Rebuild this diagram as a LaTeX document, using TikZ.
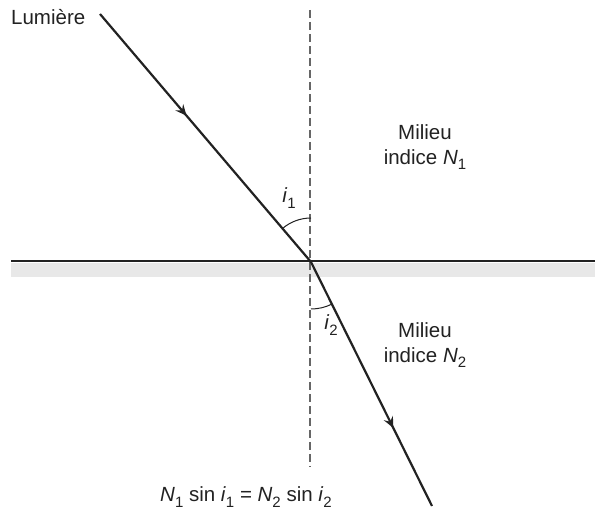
\documentclass[tikz,border=0pt]{standalone}
\usepackage{fontspec}
\setmainfont{Liberation Sans}
\usetikzlibrary{decorations.markings,arrows.meta,calc}
\definecolor{ray}{HTML}{222222}
\definecolor{band}{HTML}{E8E8E8}
\definecolor{normalc}{HTML}{666666}
\newcommand{\sbs}[1]{\raisebox{-0.28em}{\fontsize{15}{15}\selectfont #1}}
\begin{document}
\begin{tikzpicture}[x=1pt,y=1pt,
  raystyle/.style={draw=ray,line width=2.2pt},
  midarrow/.style={postaction={decorate},decoration={markings,
     mark=at position #1 with {\arrow{Stealth[length=11pt,width=10pt,inset=4pt]}}}},
  lbl/.style={font=\fontsize{20.5}{25}\selectfont,text=ray,inner sep=0pt},
  anglearc/.style={draw=ray,line width=1pt}]
\useasboundingbox (0,0) rectangle (595,509);
% medium band and interface
\fill[band] (11,232) rectangle (595,246);
\coordinate (L) at (11,248);
\coordinate (R) at (595,248);
\draw[ray,line width=2pt] (L) -- (R);
% normal
\coordinate (Ntop) at (310,499);
\coordinate (Nbot) at (310,42);
\draw[normalc,line width=1.3pt,dash pattern=on 8pt off 4pt] (Ntop) -- (Nbot);
% rays
\coordinate (A) at (100,495);
\coordinate (O) at (311,247);
\coordinate (B) at (432,3);
\draw[raystyle,midarrow=0.41] (A) -- (O);
\draw[raystyle,midarrow=0.68] (O) -- (B);
% angle arcs
\draw[anglearc] ($(O)+(90:44)$) arc[start angle=90,end angle=130.4,radius=44];
\draw[anglearc] ($(O)+(270:47)$) arc[start angle=270,end angle=296.4,radius=47];
% labels
\node[lbl,anchor=west] (lum) at (11,492) {Lumière};
\node[lbl] (i1) at (289,311) {\textit{i}\sbs{1}};
\node[lbl] (i2) at (331,184) {\textit{i}\sbs{2}};
\node[lbl,align=center] (m1) at (425,362) {Milieu\\indice \textit{N}\sbs{1}};
\node[lbl,align=center] (m2) at (425,164) {Milieu\\indice \textit{N}\sbs{2}};
\node[lbl] (eq) at (246,12) {\textit{N}\sbs{1} sin \textit{i}\sbs{1} = \textit{N}\sbs{2} sin \textit{i}\sbs{2}};
\end{tikzpicture}
\end{document}
